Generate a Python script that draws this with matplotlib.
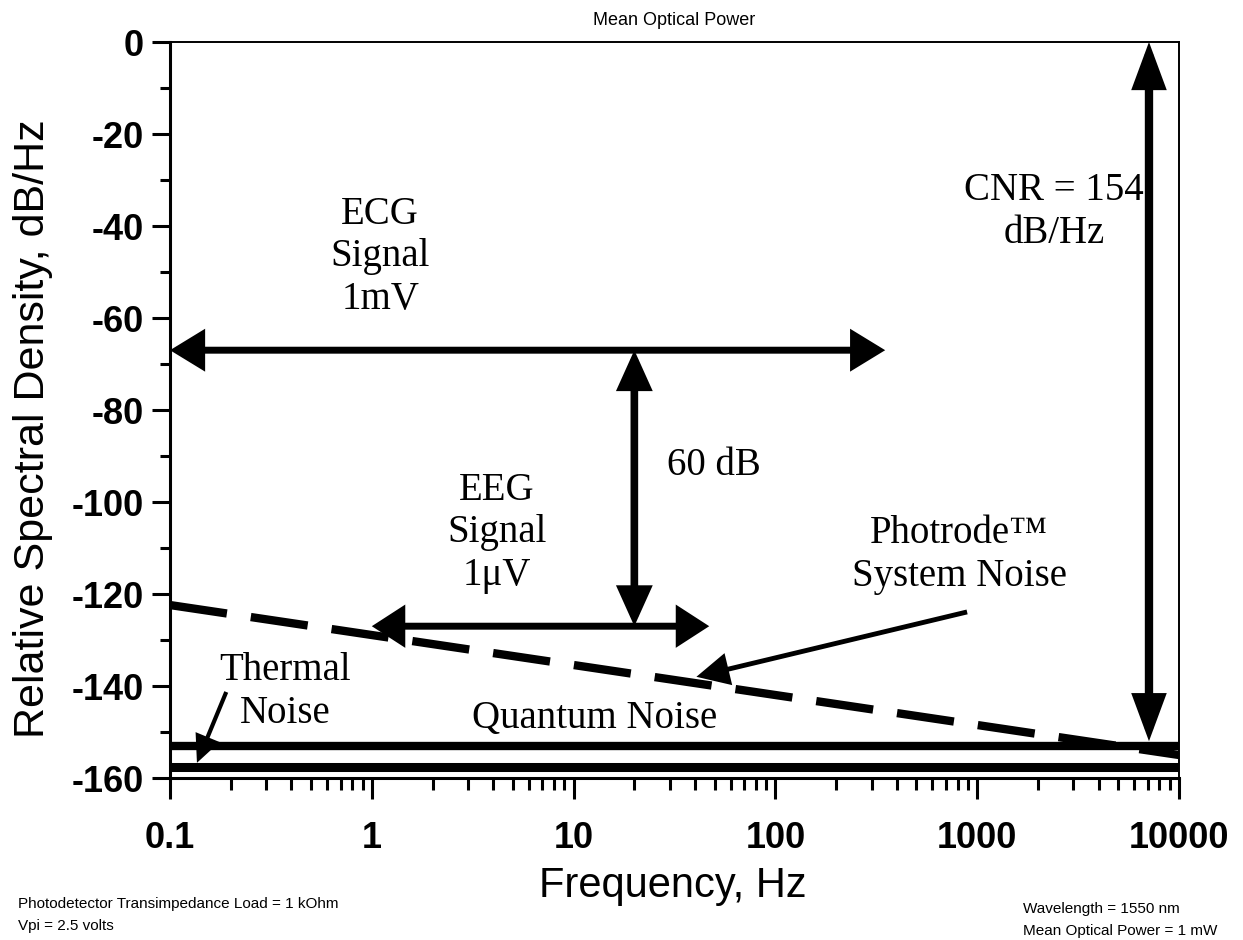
import numpy as np
import matplotlib.pyplot as plt
from matplotlib.ticker import FixedLocator, LogLocator, MultipleLocator, NullFormatter

plt.rcParams['axes.unicode_minus'] = False

# ---- data ----
freq_span = [0.1, 10000]
quantum_noise = [-153.0, -153.0]
thermal_noise = [-157.6, -157.6]
system_noise = [-122.4, -155.0]      # dashed Photrode system noise line

x_ticks = [0.1, 1, 10, 100, 1000, 10000]
x_tick_labels = ['0.1', '1', '10', '100', '1000', '10000']
y_ticks = [0, -20, -40, -60, -80, -100, -120, -140, -160]

ecg_level = -67
ecg_span = [0.1, 350]
eeg_level = -127
eeg_span = [1.0, 47]
gap_freq = 20                  # 60 dB arrow
cnr_freq = 7100
cnr_span = [0, -152]
photrode_tail = (891, -123.9)
photrode_tip = (40.6, -138.0)
thermal_tail = (0.19, -141.3)
thermal_tip = (0.136, -156.7)

W, H = 1243, 940
fig = plt.figure(figsize=(W / 100, H / 100), dpi=100)
ax = fig.add_axes([170 / W, (H - 778) / H, 1009 / W, 736 / H])

ax.set_xscale('log')
ax.set_xlim(freq_span)
ax.set_ylim(-160, 0)

# noise floors
ax.plot(freq_span, quantum_noise, color='black', lw=6, solid_capstyle='butt')
ax.plot(freq_span, thermal_noise, color='black', lw=6.5, solid_capstyle='butt')
ax.plot(freq_span, system_noise, color='black', lw=6, dashes=(6.9, 2.9),
        dash_capstyle='butt')

serif = 'Liberation Serif'


def arrow(tail, tip, style, lw, hl, hw):
    ax.annotate('', xy=tip, xytext=tail,
                arrowprops=dict(arrowstyle=f'{style},head_length={hl},head_width={hw}',
                                lw=lw, color='black', mutation_scale=10,
                                shrinkA=0, shrinkB=0, joinstyle='miter',
                                capstyle='butt'),
                annotation_clip=False)


# double arrows
arrow((ecg_span[1], ecg_level), (ecg_span[0], ecg_level), '<|-|>', 5, 1.8, 1.1)
arrow((eeg_span[1], eeg_level), (eeg_span[0], eeg_level), '<|-|>', 5, 1.7, 1.1)
arrow((gap_freq, eeg_level), (gap_freq, ecg_level), '<|-|>', 5.5, 2.0, 0.9)
arrow((cnr_freq, cnr_span[1]), (cnr_freq, cnr_span[0]), '<|-|>', 6, 2.3, 0.85)
# pointers
arrow(photrode_tail, photrode_tip, '-|>', 3.5, 1.8, 0.9)
arrow(thermal_tail, thermal_tip, '-|>', 3, 1.5, 0.7)

txt = dict(family=serif, fontsize=28, ha='center', va='center',
           linespacing=1.2)
ax.text(1.1, -46.7, 'ECG\nSignal\n1mV', **txt)
ax.text(4.16, -106.7, 'EEG\nSignal\n1\u03bcV', **txt)
ax.text(29, -92, '60 dB', family=serif, fontsize=28, ha='left', va='center')
ax.text(814, -111.5, 'Photrode\u2122\nSystem Noise', **txt)
ax.text(2405, -37, 'CNR = 154\ndB/Hz', **txt)
ax.text(0.371, -141.3, 'Thermal\nNoise', **txt)
ax.text(12.7, -147, 'Quantum Noise', family=serif, fontsize=28,
        ha='center', va='center')

# axes styling
for side in ['left', 'bottom']:
    ax.spines[side].set_linewidth(2.2)
for side in ['top', 'right']:
    ax.spines[side].set_linewidth(1.4)

ax.xaxis.set_major_locator(FixedLocator(x_ticks))
ax.set_xticklabels(x_tick_labels)
ax.xaxis.set_minor_locator(LogLocator(base=10, subs=np.arange(2, 10)))
ax.xaxis.set_minor_formatter(NullFormatter())
ax.yaxis.set_major_locator(FixedLocator(y_ticks))
ax.yaxis.set_minor_locator(MultipleLocator(10))

ax.tick_params(axis='both', which='both', direction='out', width=2.2,
               top=False, right=False)
ax.tick_params(axis='y', which='major', length=13, pad=6)
ax.tick_params(axis='y', which='minor', length=7)
ax.tick_params(axis='x', which='major', length=15, pad=16)
ax.tick_params(axis='x', which='minor', length=8.5)
for lab in ax.get_xticklabels() + ax.get_yticklabels():
    lab.set_family('Liberation Sans')
    lab.set_fontweight('bold')
    lab.set_fontsize(26)

ax.set_title('Mean Optical Power', family='Liberation Sans', fontsize=13, pad=12)

fig.text(33 / W, 1 - 429 / H, 'Relative Spectral Density, dB/Hz',
         family='Liberation Sans', fontsize=31, rotation=90,
         ha='center', va='center')
fig.text(673 / W, 1 - 886 / H, 'Frequency, Hz', family='Liberation Sans',
         fontsize=30, ha='center', va='center')

note = dict(family='Liberation Sans', fontsize=11, ha='left', va='center')
fig.text(18 / W, 1 - 904 / H, 'Photodetector Transimpedance Load = 1 kOhm', **note)
fig.text(18 / W, 1 - 926 / H, 'Vpi = 2.5 volts', **note)
fig.text(1023 / W, 1 - 909 / H, 'Wavelength = 1550 nm', **note)
fig.text(1023 / W, 1 - 931 / H, 'Mean Optical Power = 1 mW', **note)

fig.savefig('out.png', dpi=100)
